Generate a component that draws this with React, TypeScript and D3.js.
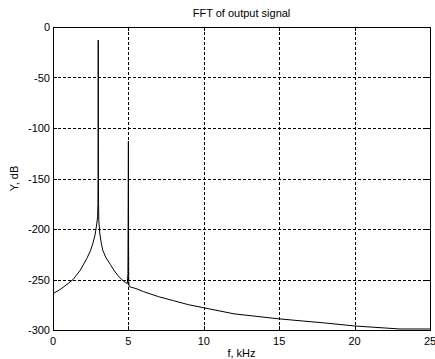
import React, { useRef, useEffect } from 'react';
import * as d3 from 'd3';

// frequency (kHz) and magnitude (dB)
const freq: number[] = [
  0, 0.46, 1.0, 1.33, 1.8, 2.25, 2.5, 2.65, 2.8, 2.9, 2.96, 2.98, 2.99, 3.0, 3.01, 3.02, 3.04, 3.1, 3.2, 3.3, 3.5, 3.8, 4.05, 4.3,
  4.55, 4.8, 4.93, 4.97, 5.0, 5.01, 5.02, 5.05, 5.5, 6, 7, 8, 9, 10, 12, 15, 18, 20, 22, 23, 25,
];
const mag: number[] = [
  -264, -260, -254, -250, -241, -229, -221, -214, -205, -195, -188, -175, -150, -13, -150, -175, -192, -204, -214, -221, -228, -235, -241, -246,
  -250, -253, -254, -244, -113, -205, -252, -257, -259, -262, -267, -271, -275, -278, -284, -289, -293, -296, -298, -299, -299,
];
const xTicks: number[] = [0, 5, 10, 15, 20, 25];
const yTicks: number[] = [0, -50, -100, -150, -200, -250, -300];

const title = 'FFT of output signal';
const xLabel = 'f, kHz';
const yLabel = 'Y, dB';

const width = 435;
const height = 359;
const marginTop = 27;
const marginRight = 5;
const marginBottom = 29;
const marginLeft = 53;

const App: React.FC = () => {
  const svgRef = useRef<SVGSVGElement>(null);

  useEffect(() => {
    if (!svgRef.current) return;
    const svg = d3.select(svgRef.current);
    svg.selectAll('*').remove();

    const x = d3.scaleLinear().domain([0, 25]).range([marginLeft, width - marginRight]);
    const y = d3.scaleLinear().domain([-300, 0]).range([height - marginBottom, marginTop]);
    const font = 'Arial, "Liberation Sans", sans-serif';

    svg.append('rect').attr('width', width).attr('height', height).attr('fill', '#fff');

    // grid
    const grid = svg.append('g').attr('stroke', '#000').attr('stroke-width', 1).attr('stroke-dasharray', '3,2');
    grid.selectAll('.gx').data(xTicks.slice(1, -1)).join('line')
      .attr('x1', d => Math.round(x(d)) + 0.5).attr('x2', d => Math.round(x(d)) + 0.5)
      .attr('y1', y(0)).attr('y2', y(-300));
    grid.selectAll('.gy').data(yTicks.slice(1, -1)).join('line')
      .attr('y1', d => Math.round(y(d)) + 0.5).attr('y2', d => Math.round(y(d)) + 0.5)
      .attr('x1', x(0)).attr('x2', x(25));

    // curve
    const pts = freq.map((f, i) => [f, mag[i]] as [number, number]);
    const line = d3.line<[number, number]>().x(d => x(d[0])).y(d => y(d[1]));
    svg.append('path').attr('d', line(pts)).attr('fill', 'none').attr('stroke', '#000').attr('stroke-width', 1);

    // box
    svg.append('rect')
      .attr('x', Math.round(x(0)) + 0.5).attr('y', Math.round(y(0)) + 0.5)
      .attr('width', Math.round(x(25)) - Math.round(x(0))).attr('height', Math.round(y(-300)) - Math.round(y(0)))
      .attr('fill', 'none').attr('stroke', '#000');

    // inward ticks, all four sides
    const tk = svg.append('g').attr('stroke', '#000');
    xTicks.forEach(t => {
      const px = Math.round(x(t)) + 0.5;
      tk.append('line').attr('x1', px).attr('x2', px).attr('y1', y(-300)).attr('y2', y(-300) - 4);
      tk.append('line').attr('x1', px).attr('x2', px).attr('y1', y(0)).attr('y2', y(0) + 4);
    });
    yTicks.forEach(t => {
      const py = Math.round(y(t)) + 0.5;
      tk.append('line').attr('y1', py).attr('y2', py).attr('x1', x(0)).attr('x2', x(0) + 4);
      tk.append('line').attr('y1', py).attr('y2', py).attr('x1', x(25)).attr('x2', x(25) - 4);
    });

    // tick labels
    svg.selectAll('.xl').data(xTicks).join('text')
      .attr('x', d => x(d)).attr('y', y(-300) + 15)
      .attr('text-anchor', 'middle').attr('font-family', font).attr('font-size', 11)
      .text(d => d);
    svg.selectAll('.yl').data(yTicks).join('text')
      .attr('x', x(0) - 3).attr('y', d => y(d) + 4)
      .attr('text-anchor', 'end').attr('font-family', font).attr('font-size', 11)
      .text(d => d);

    // title and axis labels
    svg.append('text').attr('x', (x(0) + x(25)) / 2).attr('y', 17)
      .attr('text-anchor', 'middle').attr('font-family', font).attr('font-size', 11).text(title);
    svg.append('text').attr('x', (x(0) + x(25)) / 2).attr('y', height - 2)
      .attr('text-anchor', 'middle').attr('font-family', font).attr('font-size', 11).text(xLabel);
    svg.append('text')
      .attr('transform', `translate(18,${(y(0) + y(-300)) / 2}) rotate(-90)`)
      .attr('text-anchor', 'middle').attr('font-family', font).attr('font-size', 11).text(yLabel);
  }, []);

  return <svg ref={svgRef} width={width} height={height} style={{ position: 'absolute', left: 0, top: 0 }} />;
};

export default App;
